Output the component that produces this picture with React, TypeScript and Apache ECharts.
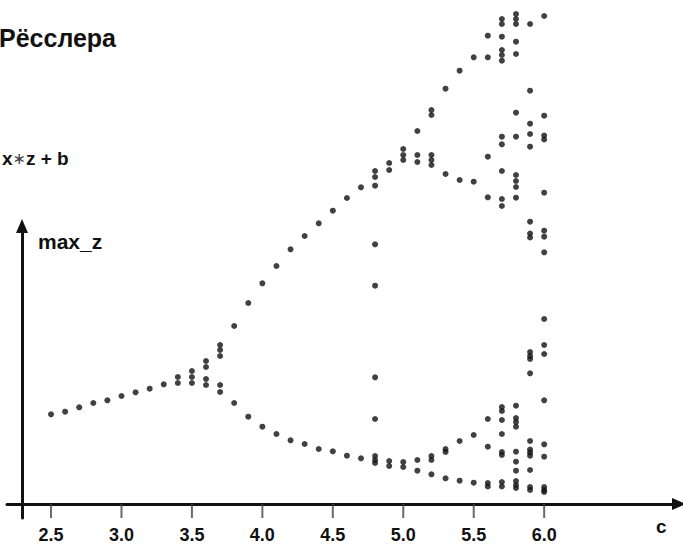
import React, { useEffect, useRef } from "react";
import * as echarts from "echarts";

// control parameter c (one column of maxima per value)
const cValues = [
  2.5, 2.6, 2.7, 2.8, 2.9, 3.0, 3.1, 3.2, 3.3, 3.4, 3.5, 3.6, 3.7, 3.8, 3.9,
  4.0, 4.1, 4.2, 4.3, 4.4, 4.5, 4.6, 4.7, 4.8, 4.9, 5.0, 5.1, 5.2, 5.3, 5.4,
  5.5, 5.6, 5.7, 5.8, 5.9, 6.0,
];

// successive maxima of z observed for each c
const maxZValues: number[][] = [
  [8.97],
  [9.23],
  [9.67],
  [10.1],
  [10.37],
  [10.8],
  [11.17],
  [11.53],
  [11.97],
  [12.7, 12.1],
  [13.3, 12.7, 12.1],
  [14.3, 13.7, 12.5, 11.9],
  [15.9, 15.4, 14.8, 11.9, 11.2],
  [17.8, 10.1],
  [20.1, 8.73],
  [22.07, 7.73],
  [23.8, 7.0],
  [25.47, 6.37],
  [26.8, 6.0],
  [28.07, 5.5],
  [29.33, 5.27],
  [30.6, 4.83],
  [31.67, 4.57],
  [33.3, 32.7, 31.83, 25.97, 21.83, 12.67, 8.5, 4.8, 4.4, 4.1],
  [34.1, 33.4, 4.3, 3.8],
  [35.5, 34.9, 34.4, 4.2, 3.7],
  [37.3, 34.9, 34.2, 4.4, 3.33],
  [39.4, 38.9, 34.9, 34.4, 33.9, 4.8, 4.4, 2.97],
  [41.53, 33.0, 5.5, 5.2, 2.57],
  [43.33, 32.4, 6.3, 2.33],
  [44.67, 32.23, 6.9, 2.13],
  [46.83, 44.67, 34.73, 30.67, 8.5, 5.73, 2.1, 1.75],
  [48.5, 48.0, 46.73, 45.4, 44.9, 44.33, 36.73, 35.97, 33.3, 30.5, 29.8, 9.7, 9.3, 8.4, 7.0, 5.2, 4.9, 2.2, 1.75],
  [49.0, 48.5, 48.0, 46.23, 45.0, 39.13, 36.73, 32.9, 32.3, 31.7, 30.63, 9.83, 8.6, 8.2, 7.73, 5.23, 4.23, 3.33, 2.3, 1.9, 1.6],
  [48.0, 41.33, 38.03, 37.0, 35.73, 28.23, 27.05, 26.65, 15.2, 14.8, 14.5, 13.07, 6.3, 5.45, 5.15, 4.83, 3.4, 1.7, 1.4],
  [48.8, 38.83, 36.85, 36.45, 31.13, 27.33, 26.73, 25.17, 18.5, 15.9, 15.0, 10.37, 5.97, 4.73, 1.7, 1.4, 1.2],
];

const xTickValues = [2.5, 3.0, 3.5, 4.0, 4.5, 5.0, 5.5, 6.0];

const titleText = "Рёсслера";
const formulaParts = ["x", "∗", "z + b"];
const yAxisName = "max_z";
const xAxisName = "c";

const FONT = "'Liberation Sans', Arial, Helvetica, sans-serif";

export default function App() {
  const ref = useRef<HTMLDivElement>(null);

  useEffect(() => {
    if (!ref.current) return;
    const chart = echarts.init(ref.current, undefined, { renderer: "svg" });

    const points: number[][] = [];
    cValues.forEach((c, i) => {
      maxZValues[i].forEach((z) => points.push([c, z]));
    });
    const tickMarks = xTickValues.map((v) => [v, 0.5]);

    const xMin = 2.1875;
    const xMax = 6.957;
    const yAxisC = 2.294; // where the vertical axis stands

    const hiddenY = {
      type: "value",
      min: 0,
      max: 1,
      show: false,
    };

    chart.setOption({
      animation: false,
      backgroundColor: "#ffffff",
      grid: [
        // main plot
        { left: 7, right: 4, top: 4, bottom: 41, outerBoundsMode: "none", containLabel: false },
        // vertical axis with its arrow
        { left: 22, right: 4, top: 226, bottom: 27, outerBoundsMode: "none", containLabel: false },
        // strip below the x axis holding the ticks
        { left: 7, right: 4, top: 504, bottom: 27, outerBoundsMode: "none", containLabel: false },
      ],
      xAxis: [
        {
          type: "value",
          gridIndex: 0,
          min: xMin,
          max: xMax,
          splitLine: { show: false },
          axisLine: {
            show: true,
            onZero: false,
            symbol: ["none", "triangle"],
            symbolSize: [12, 14],
            lineStyle: { color: "#111111", width: 3 },
          },
          axisTick: { show: false },
          axisLabel: {
            show: true,
            customValues: xTickValues,
            formatter: (v: number) => v.toFixed(1),
            fontSize: 18,
            fontWeight: "bold",
            fontFamily: FONT,
            color: "#111111",
            margin: 22,
          },
        },
        {
          type: "value",
          gridIndex: 1,
          min: yAxisC,
          max: xMax,
          show: false,
        },
        {
          type: "value",
          gridIndex: 2,
          min: xMin,
          max: xMax,
          show: false,
        },
      ],
      yAxis: [
        {
          type: "value",
          gridIndex: 0,
          min: 0,
          max: 50,
          axisLine: { show: false },
          axisTick: { show: false },
          axisLabel: { show: false },
          splitLine: { show: false },
        },
        {
          type: "value",
          gridIndex: 1,
          min: 0,
          max: 1,
          axisLine: {
            show: true,
            onZero: false,
            symbol: ["none", "triangle"],
            symbolSize: [12, 14],
            lineStyle: { color: "#111111", width: 3 },
          },
          axisTick: { show: false },
          axisLabel: { show: false },
          splitLine: { show: false },
        },
        { ...hiddenY, gridIndex: 2 },
      ],
      series: [
        {
          type: "scatter",
          xAxisIndex: 0,
          yAxisIndex: 0,
          data: points,
          symbol: "circle",
          symbolSize: 6,
          itemStyle: { color: "#111111" },
          silent: true,
        },
        {
          type: "scatter",
          xAxisIndex: 2,
          yAxisIndex: 2,
          data: tickMarks,
          symbol: "rect",
          symbolSize: [2, 14],
          itemStyle: { color: "#444444" },
          silent: true,
          z: 1,
        },
      ],
      graphic: [
        {
          type: "text",
          left: -1,
          top: 25,
          style: {
            text: titleText,
            font: `bold 25px ${FONT}`,
            fill: "#111111",
          },
        },
        {
          type: "text",
          left: 2,
          top: 149,
          style: {
            text: `{b|${formulaParts[0]}}{s|${formulaParts[1]}}{b|${formulaParts[2]}}`,
            rich: {
              b: { font: `bold 19px ${FONT}`, fill: "#111111" },
              s: { font: `16px 'DejaVu Sans', ${FONT}`, fill: "#444444" },
            },
          },
        },
        {
          type: "text",
          left: 38,
          top: 231,
          style: {
            text: yAxisName,
            font: `bold 21px ${FONT}`,
            fill: "#111111",
          },
        },
        {
          type: "text",
          left: 656,
          top: 517,
          style: {
            text: xAxisName,
            font: `bold 19px ${FONT}`,
            fill: "#111111",
          },
        },
      ],
    });

    return () => chart.dispose();
  }, []);

  return (
    <div
      ref={ref}
      style={{ position: "absolute", left: 0, top: 0, width: 683, height: 545 }}
    />
  );
}
